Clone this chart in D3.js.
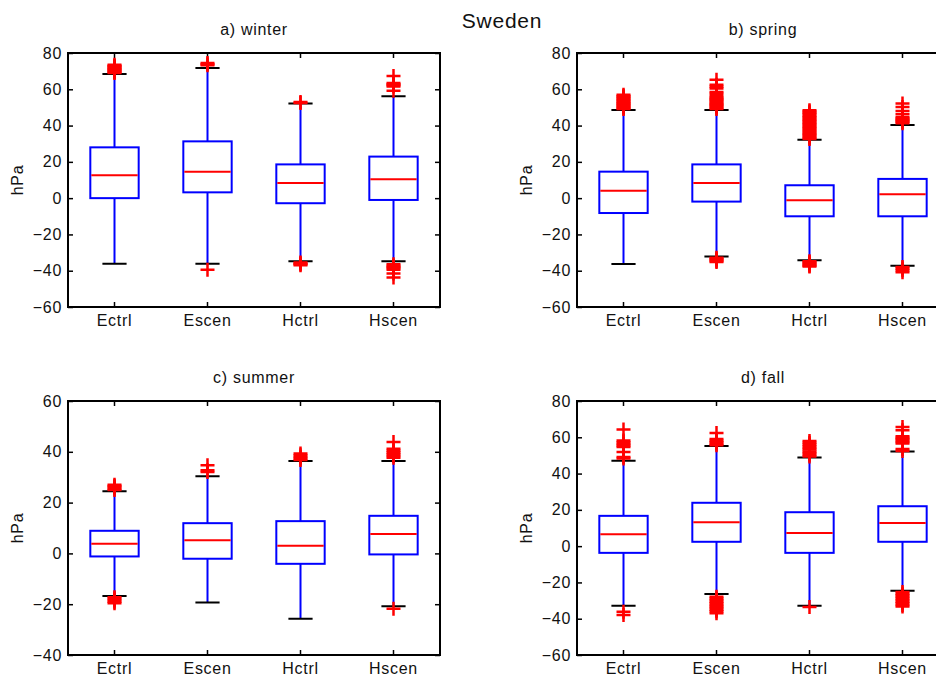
<!DOCTYPE html>
<html>
  <head>
    <meta charset="utf-8">
    <title>Sweden pressure anomalies</title>
    <script src="https://d3js.org/d3.v7.min.js"></script>
    <style>
      body { margin: 0; background: #fff; }
      svg { display: block; font-family: "Liberation Sans", Arial, sans-serif; }
      .tick text { font-size: 16px; letter-spacing: 0.7px; fill: #111; }
      .tick line { stroke: #000; stroke-width: 1.5; }
      .panelTitle { font-size: 16px; letter-spacing: 0.7px; fill: #111; text-anchor: middle; }
      .yLabel { font-size: 16px; letter-spacing: 0.7px; fill: #111; text-anchor: middle; }
    </style>
  </head>
  <body>
    <svg id="chart" width="936" height="679"></svg>
    <script>
      // experiments and seasons
      var categories = ["Ectrl", "Escen", "Hctrl", "Hscen"];
      var seasons = ["a) winter", "b) spring", "c) summer", "d) fall"];
      // y axis ticks for each season
      var yTicks = [
        [-60, -40, -20, 0, 20, 40, 60, 80],
        [-60, -40, -20, 0, 20, 40, 60, 80],
        [-40, -20, 0, 20, 40, 60],
        [-60, -40, -20, 0, 20, 40, 60, 80]
      ];
      // box statistics (hPa), one row per season, one value per experiment
      var lowerWhisker = [
        [-36.1, -36.1, -34.8, -34.8],
        [-36.3, -32.1, -34.3, -37.2],
        [-16.8, -19.3, -25.7, -20.8],
        [-32.9, -26.4, -32.9, -24.6]
      ];
      var lowerQuartile = [
        [0, 3.2, -2.8, -1.0],
        [-8.2, -1.9, -10, -10],
        [-1.2, -2.1, -4.1, -0.4],
        [-3.7, 2.4, -3.7, 2.4]
      ];
      var median = [
        [12.6, 14.6, 8.4, 10.4],
        [4.1, 8.4, -1.2, 2.1],
        [3.8, 5.2, 3.0, 7.6],
        [6.6, 13.2, 7.3, 12.7]
      ];
      var upperQuartile = [
        [28, 31.3, 18.6, 22.9],
        [14.6, 18.6, 7.1, 10.6],
        [8.9, 11.9, 12.7, 14.8],
        [16.7, 23.9, 18.7, 22.0]
      ];
      var upperWhisker = [
        [68.4, 71.7, 52.1, 56.1],
        [48.6, 48.6, 32.2, 40.3],
        [24.5, 30.4, 36.4, 36.4],
        [47.0, 55.2, 48.8, 52.1]
      ];
      // outliers per season and experiment
      var winterOutliers = [
        [69, 69.5, 70, 70.5, 71, 71.5, 72, 72.5, 73, 73.5],
        [73.2, 73.8, 74.5, -39.5],
        [52.5, 53, -35.5, -36, -36.5, -37],
        [59.2, 61.6, 62.2, 62.8, 63.5, 67.3, -36.5, -37.2, -37.9, -38.6, -39.4, -41.6, -43.8]
      ];
      var springOutliers = [
        [49.1, 49.6, 50.3, 50.8, 51.4, 52, 52.5, 53.1, 53.8, 54.4, 55, 55.7, 56.3, 57],
        [49.2, 49.8, 50.5, 51.2, 51.8, 52.5, 53.3, 54, 54.6, 55.4, 56.2, 57.6, 58.5, 60.4, 61.4, 62.5, 65.3,
         -32.8, -33.4, -34, -34.6, -35.2],
        [32.6, 33.3, 34, 34.8, 35.5, 36.2, 37, 37.8, 38.5, 39.3, 40.1, 40.8, 41.6, 42.4, 43.1, 43.9, 44.6,
         45.4, 46.2, 47, 47.8, 48.5, -34.8, -35.4, -36, -36.6, -37.2, -37.7],
        [41.3, 41.9, 42.6, 43.2, 43.9, 44.6, 46.2, 48, 50.2, 52.1, -38, -38.8, -39.8, -40.8]
      ];
      var summerOutliers = [
        [25, 25.5, 26, 26.5, 27, -17.3, -17.8, -18.4, -19, -19.6],
        [32, 32.7, 34.7],
        [36.8, 37.4, 38, 38.6, 39.3],
        [37.7, 38.3, 39, 39.7, 40.4, 41.2, 43.9, -21.8]
      ];
      var fallOutliers = [
        [48.3, 49.2, 51.9, 54.7, 55.5, 56.3, 57.2, 58.2, 64.3, -36.2, -38],
        [55.6, 56.4, 57.2, 58.1, 59.1, 62.4, -27.9, -28.8, -29.7, -30.6, -31.5, -32.4, -33.3, -34.1, -35, -35.9, -37],
        [49.4, 50.4, 51.3, 52.2, 53.2, 54.1, 55, 56, 57, 58, -33.6],
        [52.4, 53.6, 56.6, 57.4, 58.2, 59, 59.8, 60.6, 63.9, 65.7,
         -25.3, -26.2, -27, -27.9, -28.8, -29.7, -30.6, -31.5, -32.4, -33.3]
      ];
      var outliers = [winterOutliers, springOutliers, summerOutliers, fallOutliers];

      // panel frames: [left, right, top, bottom]
      var frames = [
        [68, 440, 53, 307],
        [577, 949, 53, 307],
        [68, 440, 401, 655],
        [577, 949, 401, 655]
      ];

      var chart = d3.select("#chart");

      chart.append("text")
        .attr("x", 502)
        .attr("y", 28)
        .attr("text-anchor", "middle")
        .style("font-size", "21px")
        .style("letter-spacing", "0.8px")
        .style("fill", "#111")
        .text("Sweden");

      seasons.forEach(function(season, s) {
        var f = frames[s];
        var g = chart.append("g");
        var x = d3.scaleBand().domain(categories).range([f[0], f[1]]);
        var y = d3.scaleLinear()
          .domain([yTicks[s][0], yTicks[s][yTicks[s].length - 1]])
          .range([f[3], f[2]]);
        var bw = x.bandwidth();
        var cx = function(c) { return x(c) + bw / 2; };
        var boxW = bw * 0.52;
        var capW = bw * 0.26;

        // axes, ticks pointing inward on every side
        var left = g.append("g").attr("transform", "translate(" + f[0] + ",0)")
          .call(d3.axisLeft(y).tickValues(yTicks[s]).tickSize(-5).tickPadding(6));
        var right = g.append("g").attr("transform", "translate(" + f[1] + ",0)")
          .call(d3.axisRight(y).tickValues(yTicks[s]).tickSize(-5).tickFormat(""));
        var bottom = g.append("g").attr("transform", "translate(0," + f[3] + ")")
          .call(d3.axisBottom(x).tickSize(-5).tickPadding(8));
        var top = g.append("g").attr("transform", "translate(0," + f[2] + ")")
          .call(d3.axisTop(x).tickSize(-5).tickFormat(""));
        [left, right, bottom, top].forEach(function(a) {
          a.attr("font-family", null).attr("font-size", null);
          a.select(".domain").remove();
        });

        // whiskers
        g.selectAll(".whisker")
          .data(categories)
          .enter().append("path")
            .attr("d", function(c, i) {
              return "M" + cx(c) + "," + y(upperWhisker[s][i]) + "V" + y(upperQuartile[s][i]) +
                "M" + cx(c) + "," + y(lowerQuartile[s][i]) + "V" + y(lowerWhisker[s][i]);
            })
            .attr("stroke", "#0000ff")
            .attr("stroke-width", 2)
            .attr("fill", "none");

        // whisker caps
        g.selectAll(".cap")
          .data(categories)
          .enter().append("path")
            .attr("d", function(c, i) {
              return "M" + (cx(c) - capW / 2) + "," + y(upperWhisker[s][i]) + "h" + capW +
                "M" + (cx(c) - capW / 2) + "," + y(lowerWhisker[s][i]) + "h" + capW;
            })
            .attr("stroke", "#000")
            .attr("stroke-width", 2)
            .attr("fill", "none");

        // boxes
        g.selectAll(".box")
          .data(categories)
          .enter().append("rect")
            .attr("x", function(c) { return cx(c) - boxW / 2; })
            .attr("y", function(c, i) { return y(upperQuartile[s][i]); })
            .attr("width", boxW)
            .attr("height", function(c, i) { return y(lowerQuartile[s][i]) - y(upperQuartile[s][i]); })
            .attr("stroke", "#0000ff")
            .attr("stroke-width", 2)
            .attr("fill", "none");

        // medians
        g.selectAll(".median")
          .data(categories)
          .enter().append("line")
            .attr("x1", function(c) { return cx(c) - boxW / 2 + 1; })
            .attr("x2", function(c) { return cx(c) + boxW / 2 - 1; })
            .attr("y1", function(c, i) { return y(median[s][i]); })
            .attr("y2", function(c, i) { return y(median[s][i]); })
            .attr("stroke", "#ff0000")
            .attr("stroke-width", 2);

        // outliers as red crosses
        categories.forEach(function(c, i) {
          g.selectAll(".out" + i)
            .data(outliers[s][i])
            .enter().append("path")
              .attr("d", function(v) {
                return "M" + (cx(c) - 7) + "," + y(v) + "h14" +
                  "M" + cx(c) + "," + (y(v) - 7) + "v14";
              })
              .attr("stroke", "#ff0000")
              .attr("stroke-width", 2.5)
              .attr("fill", "none");
        });

        // frame
        g.append("rect")
          .attr("x", f[0])
          .attr("y", f[2])
          .attr("width", f[1] - f[0])
          .attr("height", f[3] - f[2])
          .attr("fill", "none")
          .attr("stroke", "#000")
          .attr("stroke-width", 2);

        // titles
        g.append("text")
          .attr("class", "panelTitle")
          .attr("x", (f[0] + f[1]) / 2)
          .attr("y", f[2] - 18)
          .text(season);
        g.append("text")
          .attr("class", "yLabel")
          .attr("transform", "translate(" + (f[0] - 45) + "," + ((f[2] + f[3]) / 2) + ") rotate(-90)")
          .text("hPa");
      });
    </script>
  </body>
</html>
